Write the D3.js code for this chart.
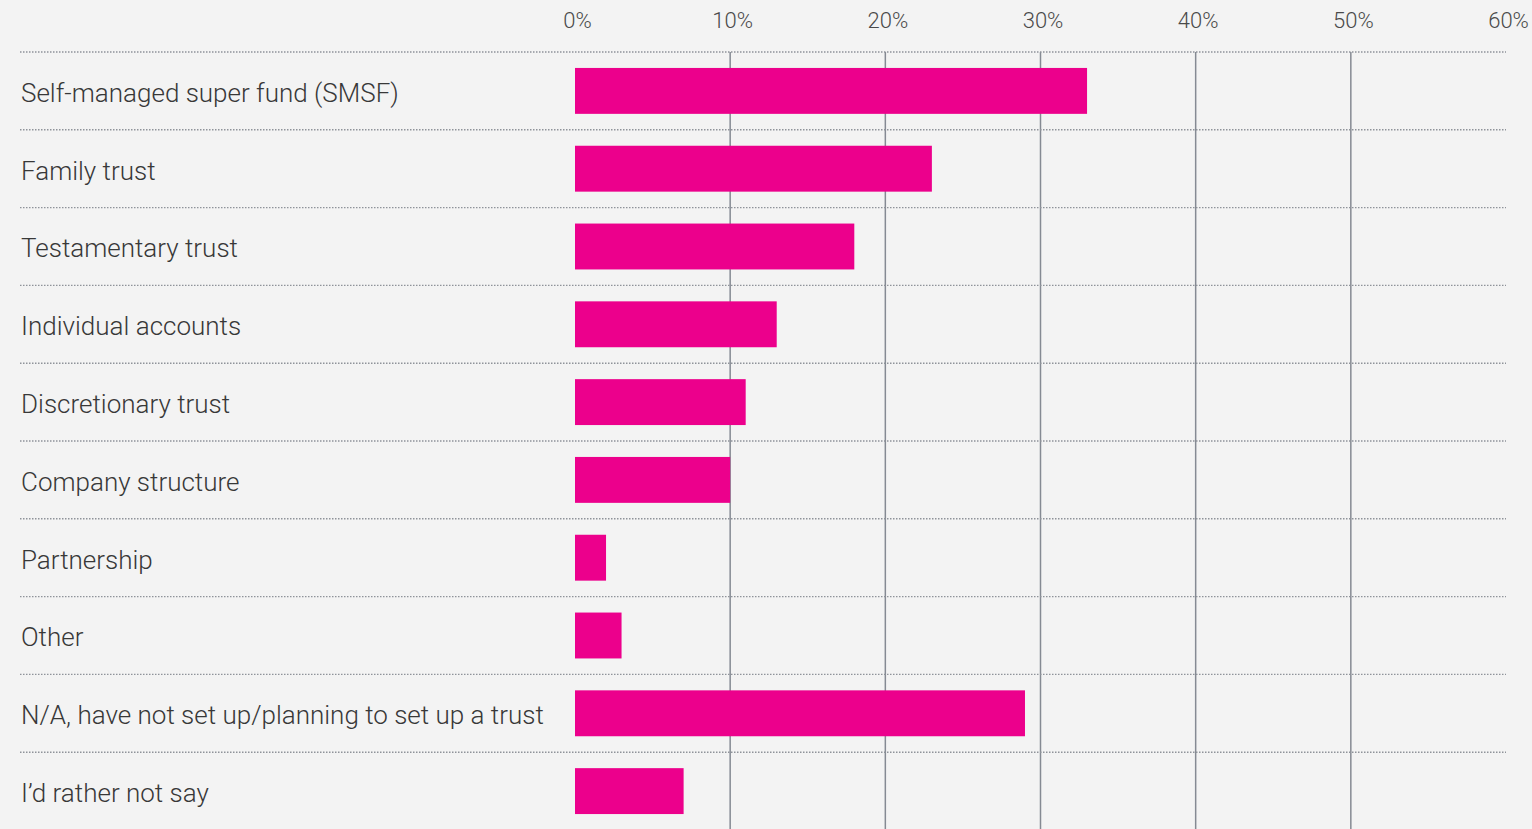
<!DOCTYPE html>
<html>
<head>
<meta charset="utf-8">
<script src="https://cdn.jsdelivr.net/npm/d3@7"></script>
<style>
  html, body { margin: 0; padding: 0; background: #f3f3f3; }
  svg { display: block; }
  text { font-family: Roboto, "Noto Sans", sans-serif; }
</style>
</head>
<body>
<svg id="chart" width="1532" height="829"></svg>
<script>
// Survey responses: structures used to hold investments
const categories = [
  "Self-managed super fund (SMSF)",
  "Family trust",
  "Testamentary trust",
  "Individual accounts",
  "Discretionary trust",
  "Company structure",
  "Partnership",
  "Other",
  "N/A, have not set up/planning to set up a trust",
  "I\u2019d rather not say"
];
const shares = [33, 23, 18, 13, 11, 10, 2, 3, 29, 7];
const tickValues = [0, 10, 20, 30, 40, 50, 60];

const W = 1532, H = 829;
const svg = d3.select("#chart");

const x = d3.scaleLinear().domain([0, 60]).range([575, 1506]);
const y = d3.scaleBand().domain(categories).range([52, 830]).paddingInner(0.41).paddingOuter(0.205);

// Vertical gridlines (no line at 0%)
svg.append("g")
  .selectAll("line")
  .data(tickValues.filter(d => d > 0 && d < 60))
  .join("line")
  .attr("x1", d => x(d)).attr("x2", d => x(d))
  .attr("y1", 52).attr("y2", H)
  .attr("stroke", "#858a93")
  .attr("stroke-width", 1.5);

// Dotted row separators
svg.append("g")
  .selectAll("line")
  .data(categories)
  .join("line")
  .attr("x1", 20).attr("x2", 1506)
  .attr("y1", d => y(d) - y.step() * y.paddingOuter())
  .attr("y2", d => y(d) - y.step() * y.paddingOuter())
  .attr("stroke", "#8f939a")
  .attr("stroke-width", 1.4)
  .attr("stroke-dasharray", "1.5,1.5");

// Top axis tick labels
const axis = d3.axisTop(x)
  .tickValues(tickValues)
  .tickFormat(d => d + "%")
  .tickSize(0)
  .tickPadding(0);
const gAxis = svg.append("g").attr("transform", "translate(0,28)").call(axis);
gAxis.select(".domain").remove();
gAxis.selectAll("text")
  .attr("font-family", "Roboto, sans-serif")
  .attr("font-size", 22)
  .attr("font-weight", 300)
  .attr("fill", "#4a4a4a")
  .attr("dy", 0)
  .attr("dx", 2);

// Bars
svg.append("g")
  .selectAll("rect")
  .data(categories)
  .join("rect")
  .attr("x", x(0))
  .attr("y", (d) => y(d))
  .attr("width", (d, i) => x(shares[i]) - x(0))
  .attr("height", y.bandwidth())
  .attr("fill", "#ec008c");

// Category labels
svg.append("g")
  .selectAll("text")
  .data(categories)
  .join("text")
  .attr("x", 21)
  .attr("y", d => y(d) + y.bandwidth() / 2)
  .attr("dy", "0.42em")
  .attr("font-size", 26)
  .attr("font-weight", 300)
  .attr("fill", "#383838")
  .text(d => d);
</script>
</body>
</html>
